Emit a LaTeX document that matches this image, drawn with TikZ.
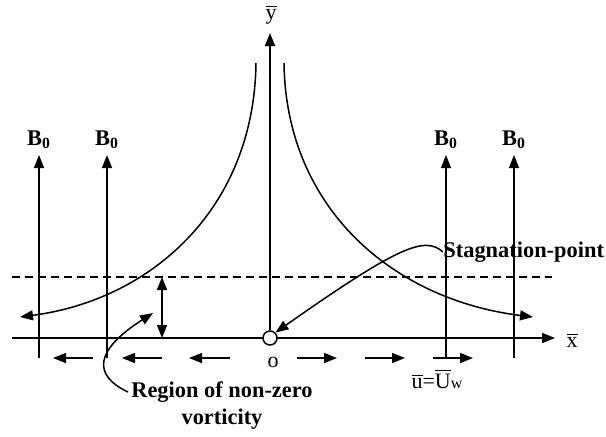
\documentclass[tikz,border=0pt]{standalone}
\usepackage{amsmath}
\usepackage{fontspec}
\setmainfont{Liberation Serif}
\usetikzlibrary{arrows.meta}

\begin{document}
\begin{tikzpicture}[
x=0.5pt, y=-0.5pt,
bold/.style={font=\fontsize{11.2}{13.5}\selectfont\bfseries, inner sep=0pt},
axislabel/.style={font=\fontsize{11}{13}\selectfont, inner sep=0pt},
plain/.style={line width=0.75pt},
arrow/.style={-{Triangle[length=6.5pt,width=5pt]},line width=0.75pt},
dblarrow/.style={{Triangle[length=6.5pt,width=5pt]}-{Triangle[length=6.5pt,width=5pt]},line width=0.75pt} ]

\useasboundingbox (0,0) rectangle (606,436);

% axes
\coordinate (xl) at (12,338);
\coordinate (xr) at (555,338);
\coordinate (yt) at (270,33);
\draw[arrow] (xl) -- (xr);
\node[circle,draw,plain,fill=white,minimum size=7pt,inner sep=0pt] (O) at (270,338) {};
\draw[arrow] (O.north) -- (yt);

\node[axislabel](xlab) at (572,340) {$\overline{\text{x}}$};
\node[axislabel](ylab) at (271,15) {$\overline{\text{y}}$};
\node[axislabel](olab) at (273,362) {o};

% edge of the vortical layer
\coordinate (dl) at (12,277);
\coordinate (dr) at (552,277);
\draw[plain,dash pattern=on 4pt off 2.5pt] (dl) -- (dr);

% magnetic field
\foreach \bx [count=\i] in {39,107,446,514}{
  \coordinate (bb\i) at (\bx,358);
  \coordinate (bt\i) at (\bx,155);
  \draw[arrow] (bb\i) -- (bt\i);
  \node[bold](B\i) at (\bx,140) {B\textsubscript{0}};
}

% streamlines
\coordinate (lc) at (256,63);
\coordinate (le) at (20,317);
\coordinate (rc) at (284,63);
\coordinate (re) at (533,317);
\draw[arrow] (lc) .. controls (254,210) and (150,300) .. (le);
\draw[arrow] (rc) .. controls (286,210) and (395,300) .. (re);

% wall velocity
\foreach \a/\b in {93/53,162/122,230/189,297/337,365/405,433/473}
  \draw[arrow] (\a,358) -- (\b,358);

\coordinate (ht) at (162,277);
\coordinate (hb) at (162,338);
\draw[dblarrow] (ht) -- (hb);

\node[axislabel](uw) at (437,379) {$\overline{\text{u}}$=$\overline{\text{U}}${\footnotesize w}};

% labels
\node[bold,anchor=west](stag) at (443,252) {Stagnation-point};
\draw[arrow] (stag.west) .. controls (425,236) and (400,245) .. (O.north east);

\node[bold,align=center](reg) at (222,406) {Region of non-zero\\vorticity};
\coordinate (rs) at (128,392);
\coordinate (rt) at (153,313);
\draw[arrow] (rs) .. controls (92,375) and (95,350) .. (rt);

\end{tikzpicture}
\end{document}
